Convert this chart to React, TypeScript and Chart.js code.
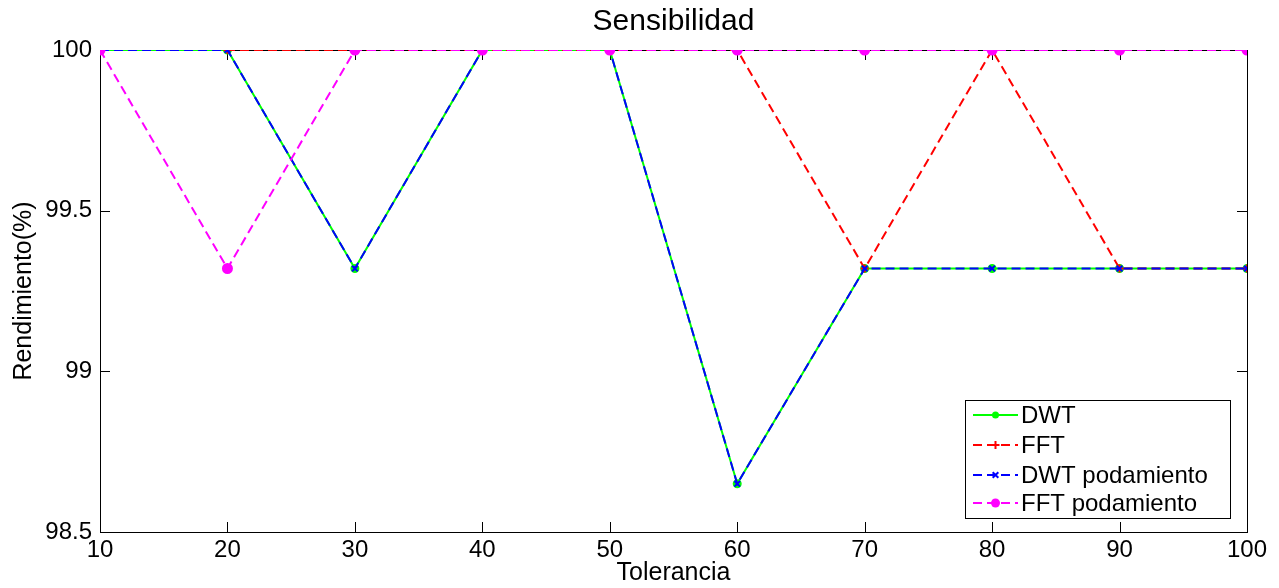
import React, { useEffect, useRef } from "react";
import { Chart, registerables } from "chart.js";

Chart.register(...registerables);

const tolerancia = [10, 20, 30, 40, 50, 60, 70, 80, 90, 100];
const dwt = [100, 100, 99.32, 100, 100, 98.65, 99.32, 99.32, 99.32, 99.32];
const fft = [100, 100, 100, 100, 100, 100, 99.32, 100, 99.32, 99.32];
const dwtPod = [100, 100, 99.32, 100, 100, 98.65, 99.32, 99.32, 99.32, 99.32];
const fftPod = [100, 99.32, 100, 100, 100, 100, 100, 100, 100, 100];
const seriesNames = ["DWT", "FFT", "DWT podamiento", "FFT podamiento"];
const yTicks = [98.5, 99, 99.5, 100];
const titleText = "Sensibilidad";
const xTitle = "Tolerancia";
const yTitle = "Rendimiento(%)";

const FONT = "Arial, 'Liberation Sans', sans-serif";

const toPts = (ys: number[]) => tolerancia.map((x, i) => ({ x, y: ys[i] }));

const framePlugin = {
  id: "frame",
  beforeDatasetsDraw(chart: any) {
    const { ctx, chartArea: a, scales } = chart;
    ctx.save();
    ctx.strokeStyle = "#000";
    ctx.lineWidth = 1;
    ctx.strokeRect(Math.round(a.left) + 0.5, Math.round(a.top) + 0.5, Math.round(a.right - a.left), Math.round(a.bottom - a.top));
    const tl = 10;
    ctx.beginPath();
    scales.x.ticks.forEach((t: any) => {
      const px = Math.round(scales.x.getPixelForValue(t.value)) + 0.5;
      ctx.moveTo(px, a.bottom);
      ctx.lineTo(px, a.bottom - tl);
      ctx.moveTo(px, a.top);
      ctx.lineTo(px, a.top + tl);
    });
    scales.y.ticks.forEach((t: any) => {
      const py = Math.round(scales.y.getPixelForValue(t.value)) + 0.5;
      ctx.moveTo(a.left, py);
      ctx.lineTo(a.left + tl, py);
      ctx.moveTo(a.right, py);
      ctx.lineTo(a.right - tl, py);
    });
    ctx.stroke();
    ctx.restore();
  },
  afterDraw(chart: any) {
    const { ctx, chartArea: a } = chart;
    ctx.save();
    // title
    ctx.fillStyle = "#000";
    ctx.font = `30px ${FONT}`;
    ctx.textAlign = "center";
    ctx.textBaseline = "middle";
    ctx.fillText(titleText, (a.left + a.right) / 2, 22);
    // legend
    const bx = 965, by = 400, bw = 265, bh = 118;
    ctx.fillStyle = "#fff";
    ctx.fillRect(bx, by, bw, bh);
    ctx.strokeStyle = "#000";
    ctx.lineWidth = 1;
    ctx.strokeRect(bx + 0.5, by + 0.5, bw, bh);
    const rows = [415, 445, 475, 503];
    chart.data.datasets.forEach((ds: any, i: number) => {
      const y = rows[i];
      ctx.save();
      ctx.strokeStyle = ds.borderColor;
      ctx.lineWidth = 2;
      ctx.setLineDash(ds.borderDash || []);
      ctx.beginPath();
      ctx.moveTo(973, y);
      ctx.lineTo(1018, y);
      ctx.stroke();
      ctx.restore();
      ctx.save();
      ctx.strokeStyle = ds.pointBorderColor;
      ctx.fillStyle = ds.pointBackgroundColor;
      ctx.lineWidth = 2;
      const cx = 995.5;
      const r = ds.pointRadius;
      if (ds.pointStyle === "circle") {
        ctx.beginPath();
        ctx.arc(cx, y, r, 0, Math.PI * 2);
        ctx.fill();
      } else if (ds.pointStyle === "cross") {
        ctx.beginPath();
        ctx.moveTo(cx - r, y); ctx.lineTo(cx + r, y);
        ctx.moveTo(cx, y - r); ctx.lineTo(cx, y + r);
        ctx.stroke();
      } else {
        const d = r * 0.707;
        ctx.beginPath();
        ctx.moveTo(cx - d, y - d); ctx.lineTo(cx + d, y + d);
        ctx.moveTo(cx + d, y - d); ctx.lineTo(cx - d, y + d);
        ctx.stroke();
      }
      ctx.restore();
      ctx.fillStyle = "#000";
      ctx.font = `24px ${FONT}`;
      ctx.textAlign = "left";
      ctx.textBaseline = "middle";
      ctx.fillText(seriesNames[i], 1021, y + 1);
    });
    ctx.restore();
  },
};

export default function App() {
  const ref = useRef<HTMLCanvasElement>(null);
  useEffect(() => {
    if (!ref.current) return;
    const chart = new Chart(ref.current, {
      type: "line",
      data: {
        datasets: [
          {
            label: seriesNames[0],
            data: toPts(dwt),
            borderColor: "#00ff00",
            backgroundColor: "#00ff00",
            pointBackgroundColor: "#00ff00",
            pointBorderColor: "#00ff00",
            pointStyle: "circle",
            pointRadius: 3.5,
            borderWidth: 2,
            order: 3,
          },
          {
            label: seriesNames[1],
            data: toPts(fft),
            borderColor: "#ff0000",
            backgroundColor: "#ff0000",
            pointBackgroundColor: "#ff0000",
            pointBorderColor: "#ff0000",
            pointStyle: "cross",
            pointRadius: 4,
            pointBorderWidth: 2,
            borderWidth: 2,
            borderDash: [9, 5],
            order: 2,
          },
          {
            label: seriesNames[2],
            data: toPts(dwtPod),
            borderColor: "#0000ff",
            backgroundColor: "#0000ff",
            pointBackgroundColor: "#0000ff",
            pointBorderColor: "#0000ff",
            pointStyle: "crossRot",
            pointRadius: 4,
            pointBorderWidth: 2,
            borderWidth: 2,
            borderDash: [9, 5],
            order: 1,
          },
          {
            label: seriesNames[3],
            data: toPts(fftPod),
            borderColor: "#ff00ff",
            backgroundColor: "#ff00ff",
            pointBackgroundColor: "#ff00ff",
            pointBorderColor: "#ff00ff",
            pointStyle: "circle",
            pointRadius: 4.5,
            borderWidth: 2,
            borderDash: [9, 5],
            order: 0,
          },
        ],
      },
      options: {
        animation: false,
        responsive: true,
        maintainAspectRatio: false,
        layout: { padding: { top: 50, right: 32, left: 0, bottom: 0 } },
        plugins: {
          legend: { display: false },
          title: { display: false },
          tooltip: { enabled: false },
        },
        elements: { line: { tension: 0 } },
        scales: {
          x: {
            type: "linear",
            min: 10,
            max: 100,
            afterFit: (s: any) => { s.height = 56; },
            afterBuildTicks: (s: any) => { s.ticks = tolerancia.map((v) => ({ value: v })); },
            grid: { display: false, drawTicks: false },
            border: { display: false },
            ticks: { color: "#000", font: { family: FONT, size: 24 }, padding: 4, maxRotation: 0, autoSkip: false },
            title: { display: true, text: xTitle, color: "#000", font: { family: FONT, size: 25 }, padding: { top: 0, bottom: 0 } },
          },
          y: {
            min: 98.5,
            max: 100,
            afterFit: (s: any) => { s.width = 100; },
            afterBuildTicks: (s: any) => { s.ticks = yTicks.map((v) => ({ value: v })); },
            grid: { display: false, drawTicks: false },
            border: { display: false },
            ticks: { color: "#000", font: { family: FONT, size: 24 }, padding: 8, callback: (v: any) => String(v) },
            title: { display: true, text: yTitle, color: "#000", font: { family: FONT, size: 25 }, padding: { top: 9, bottom: 0 } },
          },
        },
      },
      plugins: [framePlugin],
    });
    return () => chart.destroy();
  }, []);
  return (
    <div style={{ position: "fixed", left: 0, top: 0, width: 1279, height: 588, background: "#fff" }}>
      <canvas ref={ref} />
    </div>
  );
}
